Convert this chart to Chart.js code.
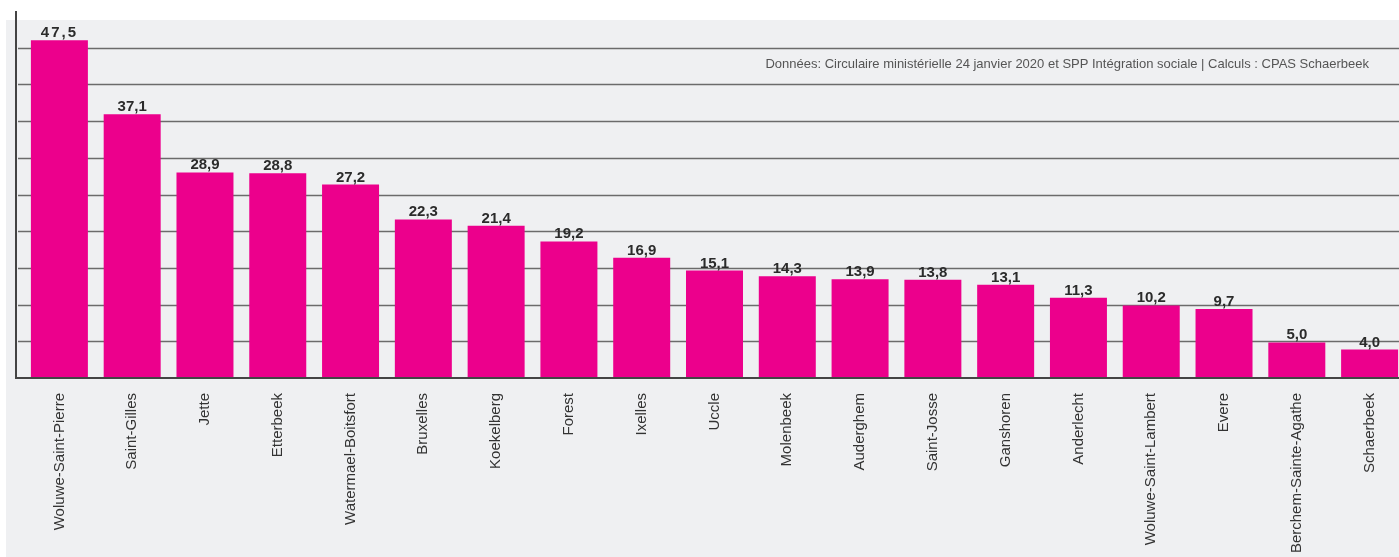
<!DOCTYPE html>
<html>
<head>
<meta charset="utf-8">
<script src="https://cdn.jsdelivr.net/npm/chart.js@4"></script>
<style>
  html, body { margin: 0; padding: 0; background: #fff; overflow: hidden; width: 1399px; height: 557px; }
  #bg { position: absolute; left: 6px; top: 20px; right: 0; bottom: 0; background: #eff0f2; }
  #wrap { position: absolute; left: 0; top: 0; width: 1406px; height: 557px; }
</style>
</head>
<body>
<div id="bg"></div>
<div id="wrap"><canvas id="chart" width="1406" height="557"></canvas></div>
<script>
const communes = [
  "Woluwe-Saint-Pierre", "Saint-Gilles", "Jette", "Etterbeek", "Watermael-Boitsfort",
  "Bruxelles", "Koekelberg", "Forest", "Ixelles", "Uccle", "Molenbeek", "Auderghem",
  "Saint-Josse", "Ganshoren", "Anderlecht", "Woluwe-Saint-Lambert", "Evere",
  "Berchem-Sainte-Agathe", "Schaerbeek"
];
const valeurs = [47.5, 37.1, 28.9, 28.8, 27.2, 22.3, 21.4, 19.2, 16.9, 15.1, 14.3, 13.9, 13.8, 13.1, 11.3, 10.2, 9.7, 5.0, 4.0];
const source = "Données: Circulaire ministérielle 24 janvier 2020 et SPP Intégration sociale | Calculs : CPAS Schaerbeek";

const gridStep = 5.16;
const gridCount = 10;

const fmt = (v) => v.toFixed(1).replace(".", ",");

// gridlines + axes drawn a few px left of the first category
const axesPlugin = {
  id: "axes",
  beforeDatasetsDraw(chart) {
    const { ctx, chartArea, scales } = chart;
    const x0 = chartArea.left - 7;
    ctx.save();
    ctx.strokeStyle = "#6b6b6b";
    ctx.lineWidth = 1.3;
    for (let i = 1; i < gridCount; i++) {
      const y = Math.round(scales.y.getPixelForValue(gridStep * i)) + 0.5;
      ctx.beginPath();
      ctx.moveTo(x0 + 2, y);
      ctx.lineTo(1399, y);
      ctx.stroke();
    }
    ctx.restore();
  },
  afterDatasetsDraw(chart) {
    const { ctx, chartArea, scales } = chart;
    const x0 = chartArea.left - 7;
    const yb = scales.y.getPixelForValue(0);
    ctx.save();
    ctx.strokeStyle = "#444";
    ctx.lineWidth = 2;
    ctx.beginPath();
    ctx.moveTo(x0, chartArea.top);
    ctx.lineTo(x0, yb);
    ctx.lineTo(1399, yb);
    ctx.stroke();

    // value labels
    const meta = chart.getDatasetMeta(0);
    ctx.fillStyle = "#2b2b2b";
    ctx.textAlign = "center";
    ctx.textBaseline = "alphabetic";
    meta.data.forEach((bar, i) => {
      ctx.font = "bold 15px 'Liberation Sans', Arial, sans-serif";
      ctx.letterSpacing = i === 0 ? "2px" : "0px";
      ctx.fillText(fmt(valeurs[i]), bar.x, bar.y - 3);
    });
    ctx.letterSpacing = "0px";

    // source note
    ctx.font = "13px 'Liberation Sans', Arial, sans-serif";
    ctx.fillStyle = "#555";
    ctx.textAlign = "right";
    ctx.textBaseline = "middle";
    ctx.fillText(source, 1369, 64);
    ctx.restore();
  }
};

new Chart(document.getElementById("chart"), {
  type: "bar",
  data: {
    labels: communes,
    datasets: [{
      data: valeurs,
      backgroundColor: "#ec008c",
      barPercentage: 0.783,
      categoryPercentage: 1.0
    }]
  },
  options: {
    responsive: false,
    animation: false,
    layout: { padding: { top: 11, left: 0, right: 0, bottom: 0 } },
    plugins: {
      legend: { display: false },
      tooltip: { enabled: false }
    },
    scales: {
      x: {
        grid: { display: false, drawTicks: false },
        border: { display: false },
        ticks: {
          color: "#333",
          font: { family: "'Liberation Sans', Arial, sans-serif", size: 15 },
          minRotation: 90,
          maxRotation: 90,
          padding: 15,
          autoSkip: false
        },
        afterFit: (s) => { s.height = 179; }
      },
      y: {
        min: 0,
        max: gridStep * gridCount,
        grid: { display: false },
        border: { display: false },
        ticks: { display: false, stepSize: gridStep },
        afterFit: (s) => { s.width = 23; }
      }
    }
  },
  plugins: [axesPlugin]
});
</script>
</body>
</html>
